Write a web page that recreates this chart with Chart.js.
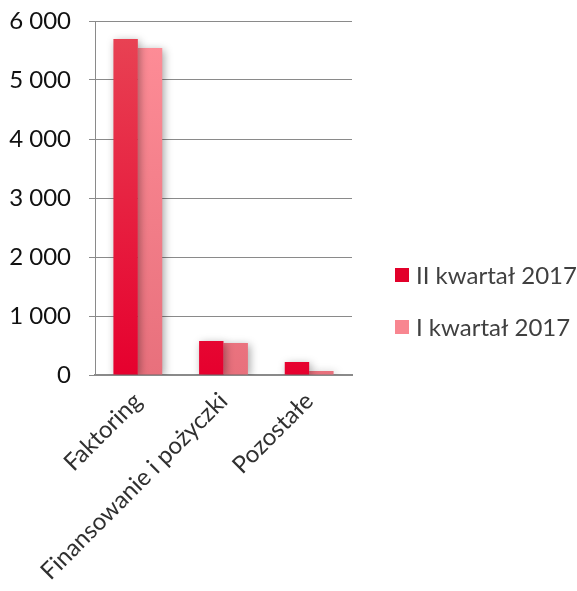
<!DOCTYPE html>
<html><head><meta charset="utf-8">
<script src="https://cdn.jsdelivr.net/npm/chart.js@4.4.0/dist/chart.umd.min.js"></script>
<style>html,body{margin:0;padding:0;background:#fff;}#wrap{width:577px;height:591px;}</style>
</head><body><div id="wrap"><canvas id="c" width="577" height="591"></canvas></div>
<script>
const categories = ["Faktoring", "Finansowanie i pożyczki", "Pozostałe"];
const seriesNames = ["II kwartał 2017", "I kwartał 2017"];
const q2Values = [5695, 576, 220];
const q1Values = [5542, 542, 68];
const yTicks = [0, 1000, 2000, 3000, 4000, 5000, 6000];

const FONT = 'Lato';

function grad(ctx, top, bottom) {
  const ch = ctx.chart;
  const a = ch.chartArea;
  if (!a) return top;
  const g = ch.ctx.createLinearGradient(0, a.top, 0, a.bottom);
  g.addColorStop(0, top);
  g.addColorStop(1, bottom);
  return g;
}

const shadowPlugin = {
  id: 'shadow',
  beforeDatasetDraw(chart) { const c = chart.ctx; c.save(); c.shadowColor = 'rgba(0,0,0,0.35)'; c.shadowBlur = 9; c.shadowOffsetX = 2; c.shadowOffsetY = 2; },
  afterDatasetDraw(chart) { chart.ctx.restore(); }
};

const legendPlugin = {
  id: 'customLegend',
  afterDraw(chart) {
    const c = chart.ctx;
    const rowsY = [275, 327];
    c.save();
    c.font = '24px ' + FONT;
    c.textBaseline = 'middle';
    c.textAlign = 'left';
    chart.data.datasets.forEach((d, i) => {
      const y = rowsY[i];
      c.fillStyle = d.legendColor;
      c.fillRect(395, y - 7, 14, 14);
      c.fillStyle = '#404040';
      c.fillText(d.label, 416, y + 1);
    });
    c.restore();
  }
};

new Chart(document.getElementById('c'), {
  type: 'bar',
  data: {
    labels: categories,
    datasets: [
      { label: seriesNames[0], data: q2Values, backgroundColor: c => grad(c, '#e84555', '#e6002e'), legendColor: '#e2002a' },
      { label: seriesNames[1], data: q1Values, backgroundColor: c => grad(c, '#ff8e98', '#e8707c'), legendColor: '#f88690' }
    ]
  },
  plugins: [shadowPlugin, legendPlugin],
  options: {
    responsive: false,
    animation: false,
    devicePixelRatio: 1,
    layout: { padding: { top: 21, right: 225, bottom: 0, left: 0 } },
    datasets: { bar: { categoryPercentage: 0.57, barPercentage: 1.0 } },
    plugins: {
      tooltip: { enabled: false },
      legend: { display: false }
    },
    scales: {
      x: {
        afterFit(s) { s.height = 216; s.paddingTop = 0; },
        grid: { display: false, drawTicks: false },
        border: { display: true, color: '#8a8a8a', width: 2 },
        ticks: { font: { family: FONT, size: 24 }, color: '#303030', minRotation: 45, maxRotation: 45, padding: 12 }
      },
      y: {
        min: 0, max: 6000,
        afterFit(s) { s.width = 95; s.paddingTop = 0; s.paddingBottom = 0; },
        afterBuildTicks(s) { s.ticks = yTicks.map(v => ({ value: v })); },
        grid: { color: '#8a8a8a', lineWidth: 1, tickLength: 6, drawTicks: true },
        border: { display: true, color: '#8a8a8a', width: 1 },
        ticks: {
          font: { family: FONT, size: 24 }, color: '#111', padding: 18,
          callback: v => String(v).replace(/\B(?=(\d{3})+(?!\d))/g, ' ')
        }
      }
    }
  }
});
</script></body></html>
